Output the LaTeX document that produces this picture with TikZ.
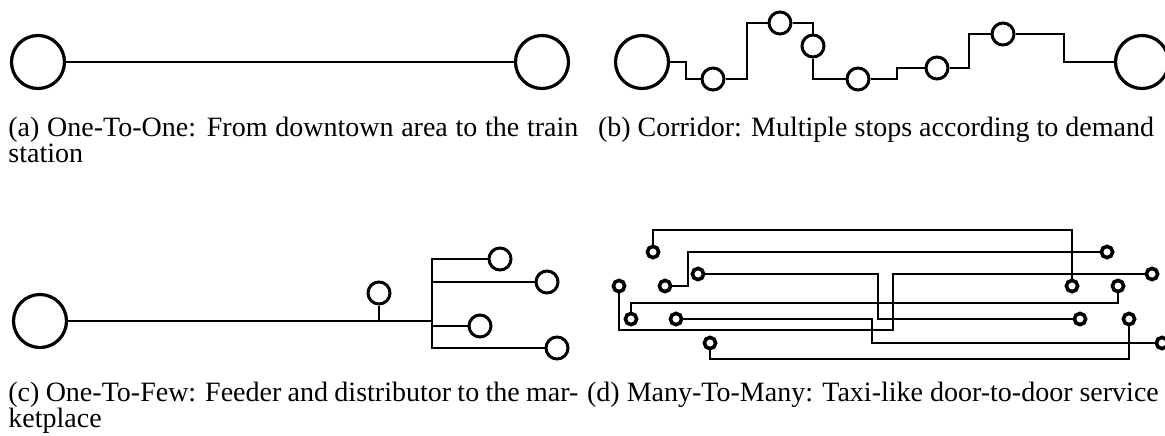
\documentclass[tikz,border=0pt]{standalone}
\usepackage{fontspec}
\setmainfont{Liberation Serif}
\begin{document}
\begin{tikzpicture}[
    x=0.5pt, y=-0.5pt,
    terminal/.style={
      circle, draw, line width=1.6pt,
      minimum size=26.5pt, inner sep=0pt
    },
    halt/.style={
      circle, draw, line width=1.5pt,
      minimum size=11pt, inner sep=0pt
    },
    door/.style={
      circle, draw, line width=1.8pt,
      minimum size=5.6pt, inner sep=0pt
    },
    route/.style={line width=0.9pt},
    trunk/.style={line width=1.2pt},
    subcap/.style={
      font=\fontsize{14pt}{13.4pt}\selectfont,
      inner sep=0pt
    },
  ]
  \useasboundingbox (0,0) rectangle (1165,435);

  % --- (a) One-To-One ---
  \node[terminal] (aL) at (38,62) {};
  \node[terminal] (aR) at (542,62) {};
  \draw[line width=0.7pt] (aL) -- (aR);

  \node[subcap, anchor=base west, text width=285pt, align=justify] (capA) at (8,136)
    {(a) One-To-One: From downtown area to the train station};

  % --- (b) Corridor ---
  \node[terminal] (b0) at (642,62) {};
  \node[halt] (b1) at (713,79) {};
  \node[halt] (b2) at (780,23) {};
  \node[halt] (b3) at (813,46) {};
  \node[halt] (b4) at (858,79) {};
  \node[halt] (b5) at (937,68) {};
  \node[halt] (b6) at (1003,34) {};
  \node[terminal] (b7) at (1142,62) {};

  \draw[route] (b0) -- (686,62) |- (b1);
  \draw[route] (b1) -- (747,79) |- (b2);
  \draw[route] (b2) -| (b3);
  \draw[route] (b3) |- (b4);
  \draw[route] (b4) -- (897,79) |- (b5);
  \draw[route] (b5) -- (969,68) |- (b6);
  \draw[route] (b6) -- (1064,34) |- (b7);

  \node[subcap, anchor=base] (capB) at (876,136)
    {(b) Corridor: Multiple stops according to demand};

  % --- (c) One-To-Few ---
  \node[terminal] (c0) at (40,321) {};
  \node[halt] (cs) at (379,293) {};
  \node[halt] (c1) at (500,259) {};
  \node[halt] (c2) at (547,282) {};
  \node[halt] (c3) at (480,326) {};
  \node[halt] (c4) at (557,348) {};
  \coordinate (cj) at (432,321);

  \draw[trunk] (c0) -- (cj);
  \draw[route] (cs) -- (cs |- cj);
  \draw[route] (c1) -| (432,348) -- (c4);
  \draw[route] (c2) -- (c2 -| cj);
  \draw[route] (c3) -- (c3 -| cj);

  \node[subcap, anchor=base west, text width=285pt, align=justify] (capC) at (8,401)
    {(c) One-To-Few: Feeder and distributor to the mar\-ketplace};

  % --- (d) Many-To-Many ---
  \node[door] (d1s) at (653,252) {};
  \node[door] (d1e) at (1072,286) {};
  \node[door] (d2s) at (665,286) {};
  \node[door] (d2e) at (1107,252) {};
  \node[door] (d3s) at (698,274) {};
  \node[door] (d3e) at (1080,319) {};
  \node[door] (d4s) at (619,286) {};
  \node[door] (d4e) at (1152,274) {};
  \node[door] (d5s) at (631,319) {};
  \node[door] (d5e) at (1118,286) {};
  \node[door] (d6s) at (676,319) {};
  \node[door] (d6e) at (1162,343) {};
  \node[door] (d7s) at (710,343) {};
  \node[door] (d7e) at (1129,319) {};

  \draw[route] (d1s) |- (1072,230) -- (d1e);
  \draw[route] (d2s) -- (688,286) |- (d2e);
  \draw[route] (d3s) -- (878,274) |- (d3e);
  \draw[route] (d4s) |- (893,330) |- (d4e);
  \draw[route] (d5s) |- (1118,303) -- (d5e);
  \draw[route] (d6s) -- (872,319) |- (d6e);
  \draw[route] (d7s) |- (1129,359) -- (d7e);

  \node[subcap, anchor=base] (capD) at (873,401)
    {(d) Many-To-Many: Taxi-like door-to-door service};

\end{tikzpicture}
\end{document}
